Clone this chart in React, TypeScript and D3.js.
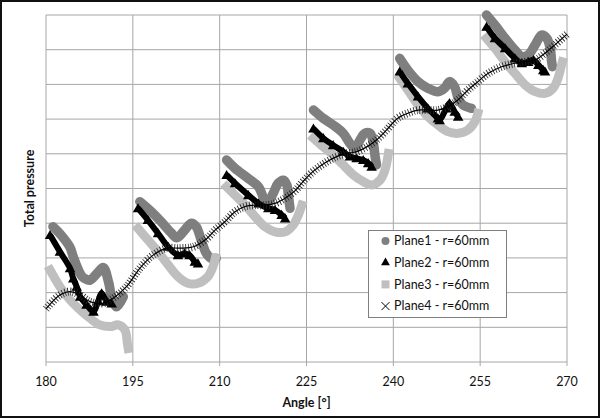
import React from "react";
import * as d3 from "d3";

type Pt = [number, number];

const xTicks = [180, 195, 210, 225, 240, 255, 270];
const yGrid = [0, 1, 2, 3, 4, 5, 6, 7, 8, 9, 10];

const plane1: Pt[][] = [
  [[181.2, 3.9], [182.7, 3.64], [184.1, 3.32], [184.7, 3.04], [185.4, 2.73], [186.2, 2.47], [187.0, 2.38], [187.6, 2.36], [188.8, 2.55], [189.9, 2.72], [190.8, 2.31], [191.35, 1.88], [192.2, 1.59], [193.35, 1.88]],
  [[196.2, 4.62], [198.2, 4.33], [199.9, 4.04], [201.65, 3.72], [202.6, 3.58], [203.95, 3.8], [205.1, 4.0], [205.95, 3.9], [206.8, 3.52], [207.7, 3.13], [208.55, 2.99], [209.4, 2.99]],
  [[211.2, 5.82], [212.65, 5.58], [214.95, 5.29], [216.7, 5.05], [217.8, 4.67], [218.4, 4.62], [219.25, 4.86], [220.1, 5.15], [221.0, 5.24], [221.6, 5.1], [221.9, 4.76], [222.15, 4.43]],
  [[226.2, 7.26], [227.9, 7.02], [229.6, 6.83], [231.35, 6.59], [232.5, 6.3], [233.4, 6.16], [234.25, 6.4], [235.1, 6.59], [236.0, 6.59], [236.55, 6.3], [236.85, 5.92], [237.1, 5.68]],
  [[241.1, 8.75], [242.5, 8.41], [244.25, 8.08], [245.95, 7.89], [247.7, 7.79], [248.85, 7.89], [249.7, 8.08], [250.6, 7.93], [251.2, 7.6], [252.0, 7.41], [253.5, 7.31]],
  [[256.1, 10.0], [257.55, 9.71], [259.3, 9.33], [261.0, 8.99], [262.2, 8.8], [263.3, 8.85], [264.5, 9.14], [265.6, 9.42], [266.5, 9.33], [267.1, 9.04], [267.35, 8.65], [267.5, 8.51]],
];

const plane2: Pt[][] = [
  [[180.7, 3.66], [182.4, 3.18], [184.15, 2.7], [184.7, 2.41], [185.3, 2.17], [185.9, 1.88], [187.0, 1.65], [188.2, 1.45], [189.0, 1.75], [189.6, 1.98], [190.5, 1.74], [191.35, 1.69]],
  [[195.9, 4.43], [197.6, 4.09], [199.35, 3.71], [201.1, 3.32], [202.8, 3.08], [203.95, 3.13], [204.8, 3.08], [205.7, 2.89], [206.25, 2.84]],
  [[211.2, 5.39], [212.65, 5.15], [214.95, 4.81], [216.7, 4.57], [218.4, 4.43], [219.55, 4.38], [220.7, 4.24], [221.3, 4.14]],
  [[226.2, 6.73], [227.9, 6.45], [229.6, 6.25], [231.35, 6.06], [232.5, 5.92], [233.65, 5.87], [234.8, 5.82], [235.65, 5.73], [236.25, 5.63]],
  [[241.1, 8.37], [242.5, 8.03], [244.25, 7.65], [245.95, 7.31], [247.7, 7.02], [248.0, 6.97], [249.15, 7.31], [249.7, 7.46], [250.6, 7.21], [251.2, 7.07]],
  [[256.1, 9.66], [257.55, 9.33], [259.3, 9.04], [261.0, 8.75], [262.2, 8.61], [263.3, 8.65], [264.2, 8.7], [265.05, 8.56], [265.9, 8.41], [266.2, 8.37]],
];

const plane3: Pt[][] = [
  [[180.7, 2.65], [182.4, 2.17], [184.15, 1.79], [185.9, 1.5], [187.6, 1.26], [189.3, 1.07], [191.05, 1.02], [192.5, 1.07], [193.65, 0.92], [194.05, 0.54], [194.2, 0.39]],
  [[195.9, 3.85], [197.6, 3.52], [199.35, 3.18], [201.1, 2.8], [202.8, 2.46], [204.5, 2.27], [206.25, 2.27], [207.95, 2.46], [208.85, 2.75], [209.25, 2.99]],
  [[211.2, 5.05], [212.65, 4.81], [214.4, 4.52], [216.1, 4.19], [217.8, 3.9], [219.55, 3.75], [221.3, 3.75], [222.7, 3.95], [223.6, 4.24], [224.2, 4.52]],
  [[226.2, 6.45], [227.9, 6.2], [229.6, 5.97], [231.35, 5.68], [233.1, 5.39], [234.8, 5.2], [236.25, 5.1], [237.7, 5.24], [238.55, 5.53], [239.15, 6.01]],
  [[241.1, 8.18], [242.5, 7.84], [244.25, 7.41], [245.95, 7.07], [247.7, 6.83], [249.4, 6.64], [251.2, 6.59], [252.9, 6.69], [254.1, 6.93], [254.6, 7.17]],
  [[256.1, 9.33], [257.55, 9.04], [259.3, 8.65], [261.0, 8.32], [262.8, 7.98], [264.5, 7.79], [266.2, 7.74], [267.6, 7.89], [268.45, 8.18], [269.05, 8.56], [269.2, 8.65]],
];

const plane4: Pt[] = [
  [180.0, 1.53], [182.4, 1.93], [184.15, 2.03], [185.9, 1.93], [187.6, 1.74], [189.6, 1.69], [191.6, 1.84], [193.9, 2.17],
  [196.2, 2.7], [198.5, 3.08], [200.85, 3.28], [203.15, 3.28], [205.45, 3.32], [207.8, 3.56], [209.2, 3.8], [210.9, 4.04],
  [212.65, 4.33], [214.4, 4.48], [216.1, 4.52], [217.8, 4.52], [219.55, 4.57], [221.3, 4.72], [223.0, 4.93], [224.4, 5.2],
  [226.2, 5.5], [228.5, 5.77], [230.2, 5.92], [231.95, 6.01], [233.65, 6.06], [235.4, 6.2], [237.1, 6.4], [238.85, 6.69],
  [240.7, 7.02], [242.5, 7.17], [244.25, 7.26], [245.95, 7.26], [247.7, 7.26], [249.4, 7.36], [251.2, 7.56], [252.9, 7.84],
  [254.4, 8.05], [256.4, 8.32], [258.7, 8.51], [261.0, 8.61], [262.75, 8.65], [264.5, 8.7], [266.2, 8.9], [267.9, 9.14], [270.0, 9.45],
];

const legendLabels = ["Plane1 - r=60mm", "Plane2 - r=60mm", "Plane3 - r=60mm", "Plane4 - r=60mm"];

const W = 600;
const H = 418;
const L = 46, R = 567, T = 15, B = 362;
const FONT = "Lato, 'Open Sans', sans-serif";
const C1 = "#7f7f7f";
const C3 = "#bfbfbf";
const GRID = "#a6a6a6";

export default function App() {
  const x = d3.scaleLinear().domain([180, 270]).range([L, R]);
  const y = d3.scaleLinear().domain([0, 10]).range([B, T]);
  const line = d3
    .line<Pt>()
    .x((d) => x(d[0]))
    .y((d) => y(d[1]))
    .curve(d3.curveCatmullRom.alpha(0.5));

  const tri = d3.symbol().type(d3.symbolTriangle).size(48)() as string;
  const triLeg = d3.symbol().type(d3.symbolTriangle).size(34)() as string;

  return (
    <svg width={W} height={H} style={{ position: "absolute", left: 0, top: 0, background: "#fff" }}>
      <rect x={0} y={0} width={W} height={H} fill="#fff" />
      {/* grid */}
      {yGrid.map((v) => (
        <line key={"h" + v} x1={L} x2={R} y1={y(v)} y2={y(v)} stroke={GRID} strokeWidth={1} />
      ))}
      {xTicks.map((v) => (
        <line key={"v" + v} x1={x(v)} x2={x(v)} y1={T} y2={B + 4} stroke={GRID} strokeWidth={1} />
      ))}
      {xTicks.map((v) => (
        <text key={"t" + v} x={x(v)} y={386} fontFamily={FONT} fontSize={12.5} textAnchor="middle" fill="#111">
          {v}
        </text>
      ))}

      {/* Plane1 */}
      {plane1.map((s, i) => (
        <path key={"p1" + i} d={line(s) as string} fill="none" stroke={C1} strokeWidth={9.5} strokeLinecap="round" strokeLinejoin="round" />
      ))}
      {/* Plane3 */}
      {plane3.map((s, i) => (
        <path key={"p3" + i} d={line(s) as string} fill="none" stroke={C3} strokeWidth={9} strokeLinecap="square" strokeLinejoin="round" />
      ))}
      {/* Plane2 */}
      {plane2.map((s, i) => (
        <g key={"p2" + i}>
          <path d={line(s) as string} fill="none" stroke="#000" strokeWidth={6} strokeLinejoin="round" />
          {s.map((p, j) => (
            <path key={j} d={tri} transform={`translate(${x(p[0])},${y(p[1]) + 1})`} fill="#000" />
          ))}
        </g>
      ))}
      {/* Plane4 */}
      <path d={line(plane4) as string} fill="none" stroke="#222" strokeWidth={8} strokeDasharray="0.8 2" />
      <path d={line(plane4) as string} fill="none" stroke="#000" strokeWidth={1.2} />

      {/* legend */}
      <rect x={368.5} y={230.5} width={138} height={87} fill="#fff" stroke="#7f7f7f" strokeWidth={1} />
      {legendLabels.map((lab, i) => {
        const cy = 241 + i * 21.7;
        const mx = 385.5;
        return (
          <g key={"lg" + i}>
            {i === 0 && <circle cx={mx} cy={cy} r={4} fill={C1} />}
            {i === 1 && <path d={triLeg} transform={`translate(${mx},${cy})`} fill="#000" />}
            {i === 2 && <rect x={mx - 4} y={cy - 4} width={8} height={8} fill={C3} />}
            {i === 3 && (
              <path d={`M${mx - 4},${cy - 4}L${mx + 4},${cy + 4}M${mx - 4},${cy + 4}L${mx + 4},${cy - 4}`} stroke="#000" strokeWidth={1} />
            )}
            <text x={394} y={cy + 4.3} fontFamily={FONT} fontSize={12.5} fill="#111">
              {lab}
            </text>
          </g>
        );
      })}

      {/* axis titles */}
      <text x={(L + R) / 2} y={407} fontFamily={FONT} fontSize={12.5} fontWeight="bold" textAnchor="middle" fill="#111">
        Angle [°]
      </text>
      <text
        transform={`translate(34,${(T + B) / 2}) rotate(-90)`}
        fontFamily={FONT}
        fontSize={12.5}
        fontWeight="bold"
        textAnchor="middle"
        fill="#111"
      >
        Total pressure
      </text>

      {/* outer border */}
      <rect x={1} y={1} width={W - 2} height={H - 2} fill="none" stroke="#111" strokeWidth={2} />
    </svg>
  );
}
